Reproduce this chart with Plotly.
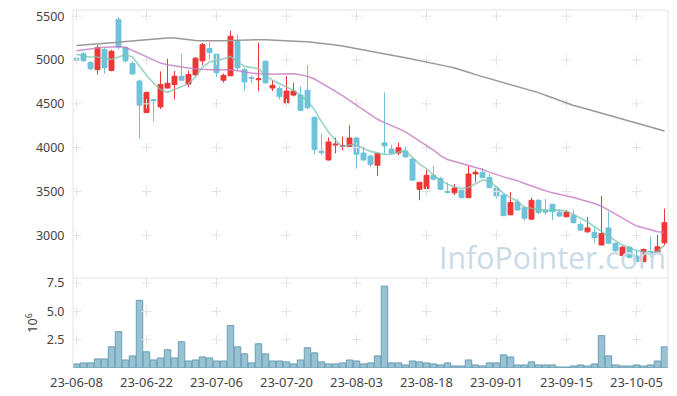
import plotly.graph_objects as go

DATES = [
    "23-06-08", "23-06-09", "23-06-12", "23-06-13", "23-06-14", "23-06-15", "23-06-16", "23-06-19",
    "23-06-20", "23-06-21", "23-06-22", "23-06-23", "23-06-26", "23-06-27", "23-06-28", "23-06-29",
    "23-06-30", "23-07-03", "23-07-04", "23-07-05", "23-07-06", "23-07-07", "23-07-10", "23-07-11",
    "23-07-12", "23-07-13", "23-07-14", "23-07-17", "23-07-18", "23-07-19", "23-07-20", "23-07-21",
    "23-07-24", "23-07-25", "23-07-26", "23-07-27", "23-07-28", "23-07-31", "23-08-01", "23-08-02",
    "23-08-03", "23-08-04", "23-08-07", "23-08-08", "23-08-09", "23-08-10", "23-08-11", "23-08-14",
    "23-08-16", "23-08-17", "23-08-18", "23-08-21", "23-08-22", "23-08-23", "23-08-24", "23-08-25",
    "23-08-28", "23-08-29", "23-08-30", "23-08-31", "23-09-01", "23-09-04", "23-09-05", "23-09-06",
    "23-09-07", "23-09-08", "23-09-11", "23-09-12", "23-09-13", "23-09-14", "23-09-15", "23-09-18",
    "23-09-19", "23-09-20", "23-09-21", "23-09-22", "23-09-25", "23-09-26", "23-09-27", "23-10-04",
    "23-10-05", "23-10-06", "23-10-10", "23-10-11", "23-10-12",
]

OPEN = [5020, 5070, 4970, 4890, 5120, 4880, 5460, 5140, 4960, 4760,
        4400, 4550, 4465, 4680, 4720, 4815, 4725, 4830, 4990, 5130,
        5065, 4770, 4820, 5210, 4890, 4800, 4775, 4985, 4680, 4675,
        4510, 4600, 4600, 4655, 4345, 3960, 3860, 4030, 4015, 4015,
        4110, 3940, 3905, 3800, 4055, 3985, 3940, 3960, 3870, 3525,
        3535, 3685, 3650, 3500, 3485, 3515, 3430, 3700, 3720, 3660,
        3540, 3460, 3235, 3380, 3315, 3185, 3400, 3285, 3355, 3265,
        3212, 3230, 3125, 3040, 3035, 2890, 3085, 2910, 2770, 2865,
        2765, 2700, 2815, 2795, 2915]
HIGH = [5060, 5090, 4990, 5170, 5140, 5117, 5490, 5150, 4990, 4775,
        4640, 4555, 4870, 5015, 4875, 5070, 4880, 5035, 5195, 5205,
        5070, 4845, 5335, 5290, 4908, 4825, 5195, 4995, 4770, 4700,
        4815, 4740, 4700, 4940, 4360, 4160, 4115, 4115, 4125, 4255,
        4120, 4010, 3915, 3940, 4630, 4035, 4060, 4010, 3885, 3610,
        3750, 3790, 3668, 3605, 3585, 3523, 3795, 3750, 3770, 3705,
        3550, 3465, 3495, 3415, 3333, 3430, 3413, 3415, 3363, 3295,
        3290, 3290, 3155, 3210, 3090, 3450, 3270, 2915, 2878, 2878,
        2840, 2850, 2985, 3005, 3305]
LOW = [4980, 4980, 4880, 4835, 4845, 4870, 5120, 4970, 4835, 4105,
       4395, 4300, 4440, 4675, 4550, 4760, 4690, 4820, 4940, 5000,
       4805, 4740, 4815, 4875, 4645, 4740, 4645, 4730, 4645, 4550,
       4505, 4585, 4420, 4435, 3925, 3915, 3855, 3935, 3970, 4010,
       3760, 3850, 3780, 3680, 3925, 3925, 3915, 3888, 3625, 3400,
       3530, 3635, 3515, 3478, 3460, 3420, 3425, 3605, 3650, 3535,
       3420, 3220, 3230, 3285, 3165, 3175, 3240, 3230, 3175, 3212,
       3205, 3135, 3050, 3033, 2915, 2885, 2900, 2815, 2765, 2737,
       2698, 2698, 2755, 2785, 2890]
CLOSE = [4995, 4990, 4900, 5140, 4910, 5100, 5150, 4990, 4840, 4485,
         4630, 4535, 4720, 4735, 4815, 4770, 4835, 5020, 5175, 5085,
         4855, 4825, 5270, 4910, 4750, 4790, 4785, 4740, 4710, 4585,
         4645, 4645, 4425, 4455, 3980, 3945, 4065, 4040, 4020, 4110,
         3925, 3860, 3810, 3935, 4020, 3940, 4000, 3895, 3630, 3605,
         3685, 3640, 3525, 3490, 3540, 3430, 3700, 3720, 3660, 3545,
         3450, 3225, 3375, 3290, 3195, 3400, 3260, 3265, 3270, 3220,
         3265, 3145, 3060, 3085, 2975, 3020, 2910, 2825, 2865, 2750,
         2700, 2840, 2785, 2870, 3145]

# volume in millions of shares (axis labelled 10^6)
VOLUME = [0.36, 0.45, 0.45, 0.80, 0.80, 1.87, 3.21, 0.71, 1.07, 5.98,
          1.43, 0.71, 0.89, 1.61, 0.89, 2.32, 0.62, 0.71, 0.98, 0.89,
          0.62, 0.62, 3.75, 1.87, 1.25, 0.45, 2.14, 1.25, 0.62, 0.62,
          0.54, 0.36, 0.71, 1.79, 1.34, 0.54, 0.36, 0.36, 0.45, 0.71,
          0.62, 0.36, 0.45, 1.07, 7.23, 0.45, 0.45, 0.27, 0.62, 0.54,
          0.45, 0.36, 0.27, 0.45, 0.18, 0.18, 0.71, 0.27, 0.18, 0.45,
          0.45, 1.16, 0.98, 0.27, 0.27, 0.54, 0.27, 0.27, 0.27, 0.09,
          0.09, 0.18, 0.27, 0.18, 0.36, 2.86, 1.07, 0.27, 0.18, 0.18,
          0.27, 0.18, 0.27, 0.62, 1.87]

MA_SHORT = [5068, 5041, 5034, 5034, 5015, 5007, 5034, 5060, 5034, 4927,
            4825, 4738, 4662, 4631, 4662, 4700, 4730, 4806, 4920, 4977,
            4992, 5011, 5041, 4977, 4927, 4912, 4901, 4825, 4768, 4730,
            4692, 4654, 4597, 4533, 4434, 4294, 4180, 4085, 4009, 4035,
            4028, 3990, 3958, 3941, 3922, 3926, 3952, 3971, 3888, 3812,
            3762, 3686, 3630, 3584, 3554, 3535, 3546, 3592, 3630, 3622,
            3546, 3478, 3432, 3390, 3318, 3307, 3296, 3288, 3288, 3288,
            3277, 3239, 3193, 3155, 3098, 3041, 2992, 2939, 2889, 2859,
            2825, 2814, 2810, 2817, 2889]
MA_MID = [5105, 5117, 5128, 5136, 5144, 5147, 5151, 5144, 5109, 5072,
          5034, 4996, 4965, 4946, 4931, 4920, 4908, 4901, 4893, 4889,
          4889, 4888, 4889, 4878, 4863, 4851, 4844, 4836, 4836, 4840,
          4844, 4844, 4832, 4813, 4783, 4738, 4692, 4643, 4593, 4540,
          4487, 4434, 4379, 4324, 4286, 4256, 4218, 4180, 4130, 4077,
          4024, 3971, 3910, 3865, 3842, 3819, 3800, 3781, 3751, 3721,
          3690, 3667, 3645, 3624, 3592, 3561, 3535, 3508, 3485, 3470,
          3447, 3432, 3409, 3387, 3364, 3333, 3288, 3239, 3189, 3144,
          3106, 3087, 3068, 3041, 3037]
MA_LONG = [5165, 5170, 5175, 5182, 5188, 5195, 5203, 5212, 5220, 5228,
           5235, 5242, 5248, 5252, 5252, 5240, 5230, 5222, 5218, 5216,
           5216, 5218, 5222, 5226, 5229, 5231, 5231, 5230, 5228, 5226,
           5223, 5218, 5212, 5207, 5200, 5192, 5182, 5172, 5160, 5146,
           5132, 5118, 5102, 5086, 5070, 5055, 5040, 5025, 5010, 4994,
           4978, 4962, 4945, 4927, 4908, 4888, 4860, 4833, 4810, 4790,
           4768, 4748, 4725, 4703, 4680, 4656, 4628, 4597, 4566, 4535,
           4505, 4482, 4460, 4437, 4413, 4390, 4367, 4343, 4320, 4298,
           4276, 4255, 4234, 4212, 4190]

PRICE_TICKS = [3000, 3500, 4000, 4500, 5000, 5500]
VOL_TICKS = [2.5, 5.0, 7.5]
VOL_TICK_TEXT = ["2.5", "5.0", "7.5"]
X_TICKS = DATES[::10]
WATERMARK = "InfoPointer.com"

UP = "#ef3636"
DOWN = "#6cc3da"
GRID = "#e3e3e3"
FONT = "Noto Sans"

fig = go.Figure()

fig.add_trace(go.Candlestick(
    x=DATES, open=OPEN, high=HIGH, low=LOW, close=CLOSE, yaxis="y",
    increasing=dict(line=dict(color=UP, width=1), fillcolor=UP),
    decreasing=dict(line=dict(color=DOWN, width=1), fillcolor=DOWN),
    whiskerwidth=0,
))

# grid "+" marks at tick intersections
gx, gy = [], []
for t in X_TICKS:
    for v in PRICE_TICKS:
        gx.append(t)
        gy.append(v)
fig.add_trace(go.Scatter(x=gx, y=gy, mode="markers", yaxis="y", hoverinfo="skip",
                         marker=dict(symbol="cross-thin", size=7, line=dict(color=GRID, width=1))))
vx, vy = [], []
for t in X_TICKS:
    for v in VOL_TICKS:
        vx.append(t)
        vy.append(v)
fig.add_trace(go.Scatter(x=vx, y=vy, mode="markers", yaxis="y2", hoverinfo="skip",
                         marker=dict(symbol="cross-thin", size=7, line=dict(color=GRID, width=1))))

fig.add_trace(go.Scatter(x=DATES, y=MA_LONG, mode="lines", yaxis="y",
                         line=dict(color="#999999", width=1.5)))
fig.add_trace(go.Scatter(x=DATES, y=MA_MID, mode="lines", yaxis="y",
                         line=dict(color="rgba(196,120,192,0.8)", width=1.5)))
fig.add_trace(go.Scatter(x=DATES, y=MA_SHORT, mode="lines", yaxis="y",
                         line=dict(color="rgba(120,196,178,0.75)", width=1.6)))

fig.add_trace(go.Bar(x=DATES, y=VOLUME, yaxis="y2",
                     marker=dict(color="#98c1d1", line=dict(color="#6b9fb6", width=1))))

SPLIT = 0.2514

fig.update_layout(
    width=677, height=396,
    margin=dict(l=73, r=9, t=10, b=28),
    paper_bgcolor="white", plot_bgcolor="white",
    showlegend=False, bargap=0.08, boxgap=0.0, boxgroupgap=0.3,
    font=dict(family=FONT, size=12.5, color="#444444"),
    xaxis=dict(type="category", categoryorder="array", categoryarray=DATES,
               range=[-0.5, len(DATES) - 0.5], anchor="y2", automargin=False,
               tickmode="array", tickvals=X_TICKS, ticktext=X_TICKS, tickangle=0,
               tickfont=dict(size=13),
               showgrid=False, zeroline=False, showline=False,
               ticks="outside", ticklen=2, tickcolor="rgba(0,0,0,0)",
               rangeslider=dict(visible=False)),
    yaxis=dict(domain=[SPLIT, 1], range=[2514, 5570], tickmode="array", tickvals=PRICE_TICKS,
               showgrid=False, zeroline=False, showline=False, automargin=False,
               ticks="outside", ticklen=5, tickcolor="rgba(0,0,0,0)"),
    yaxis2=dict(domain=[0, SPLIT], range=[0, 7.95], tickmode="array", tickvals=VOL_TICKS,
                ticktext=VOL_TICK_TEXT, showgrid=False, zeroline=False, showline=False,
                automargin=False,
                ticks="outside", ticklen=5, tickcolor="rgba(0,0,0,0)",
                title=dict(text="10<sup>6</sup>", standoff=6, font=dict(size=12.5))),
    shapes=[
        dict(type="line", xref="paper", yref="paper", x0=0, x1=1, y0=1, y1=1,
             line=dict(color=GRID, width=1)),
        dict(type="line", xref="paper", yref="paper", x0=0, x1=1, y0=SPLIT, y1=SPLIT,
             line=dict(color=GRID, width=1)),
        dict(type="line", xref="paper", yref="paper", x0=0, x1=0, y0=0, y1=1,
             line=dict(color=GRID, width=1)),
        dict(type="line", xref="paper", yref="paper", x0=1, x1=1, y0=0, y1=1,
             line=dict(color=GRID, width=1)),
    ],
    annotations=[
        dict(text=WATERMARK, xref="paper", yref="paper", x=0.806, y=0.31,
             xanchor="center", yanchor="middle", showarrow=False,
             font=dict(family="Open Sans", size=30.3, color="#c9dbe6")),
    ],
)

fig.write_html("out.html", config={"displayModeBar": False},
               post_script="document.body.style.margin='0';")
